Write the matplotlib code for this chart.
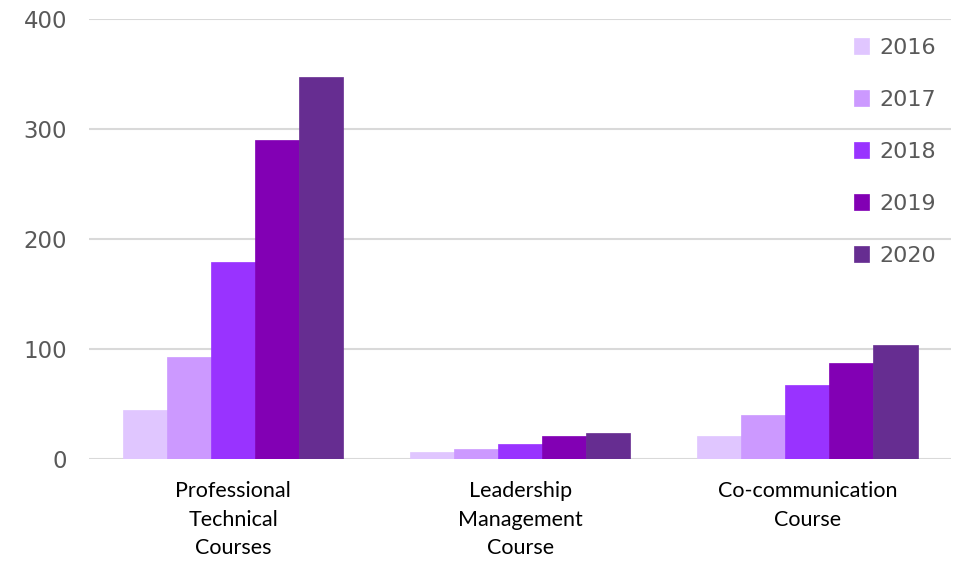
import matplotlib
matplotlib.use("Agg")
import matplotlib.pyplot as plt
import numpy as np

categories = ["Professional\nTechnical\nCourses", "Leadership\nManagement\nCourse", "Co-communication\nCourse"]
years = ["2016", "2017", "2018", "2019", "2020"]
values = {
    "2016": [44.5, 6.8, 20.7],
    "2017": [93, 8.8, 39.8],
    "2018": [179, 14, 67],
    "2019": [290, 21, 87],
    "2020": [347, 24, 103.5],
}
colors = ["#E0C6FF", "#CC99FF", "#9933FF", "#8200B4", "#662D91"]

fig = plt.figure(figsize=(9.55, 5.61), dpi=100)
ax = fig.add_axes([0.0937, 0.1818, 0.9021, 0.7843])

x = np.arange(len(categories))
width = 0.767 / len(years)
handles = []
for i, y in enumerate(years):
    b = ax.bar(x + (i - 2) * width, values[y], width, color=colors[i],
               edgecolor=colors[i], linewidth=0.5, label=y, zorder=3)
    handles.append(b)

ax.set_xlim(-0.5, 2.5)
ax.set_ylim(0, 400)
ax.set_yticks([0, 100, 200, 300, 400])
ax.yaxis.grid(True, color="#D9D9D9", linewidth=1.5, zorder=0)
ax.set_axisbelow(True)
for s in ax.spines.values():
    s.set_visible(False)
ax.tick_params(axis="y", length=0, labelsize=16.5, labelcolor="#595959", pad=16)
ax.tick_params(axis="x", length=0, pad=16)
ax.set_xticks(x)
ax.set_xticklabels(categories, fontfamily="Lato", fontsize=15.5, color="black", linespacing=1.52)

leg = fig.legend(handles=handles, labels=years, loc="upper left",
                 bbox_to_anchor=(0.873, 0.968), frameon=False,
                 fontsize=16, labelcolor="#595959",
                 handlelength=0.7, handleheight=0.7, handletextpad=0.45,
                 labelspacing=1.44)

fig.savefig("out.png", dpi=100)
